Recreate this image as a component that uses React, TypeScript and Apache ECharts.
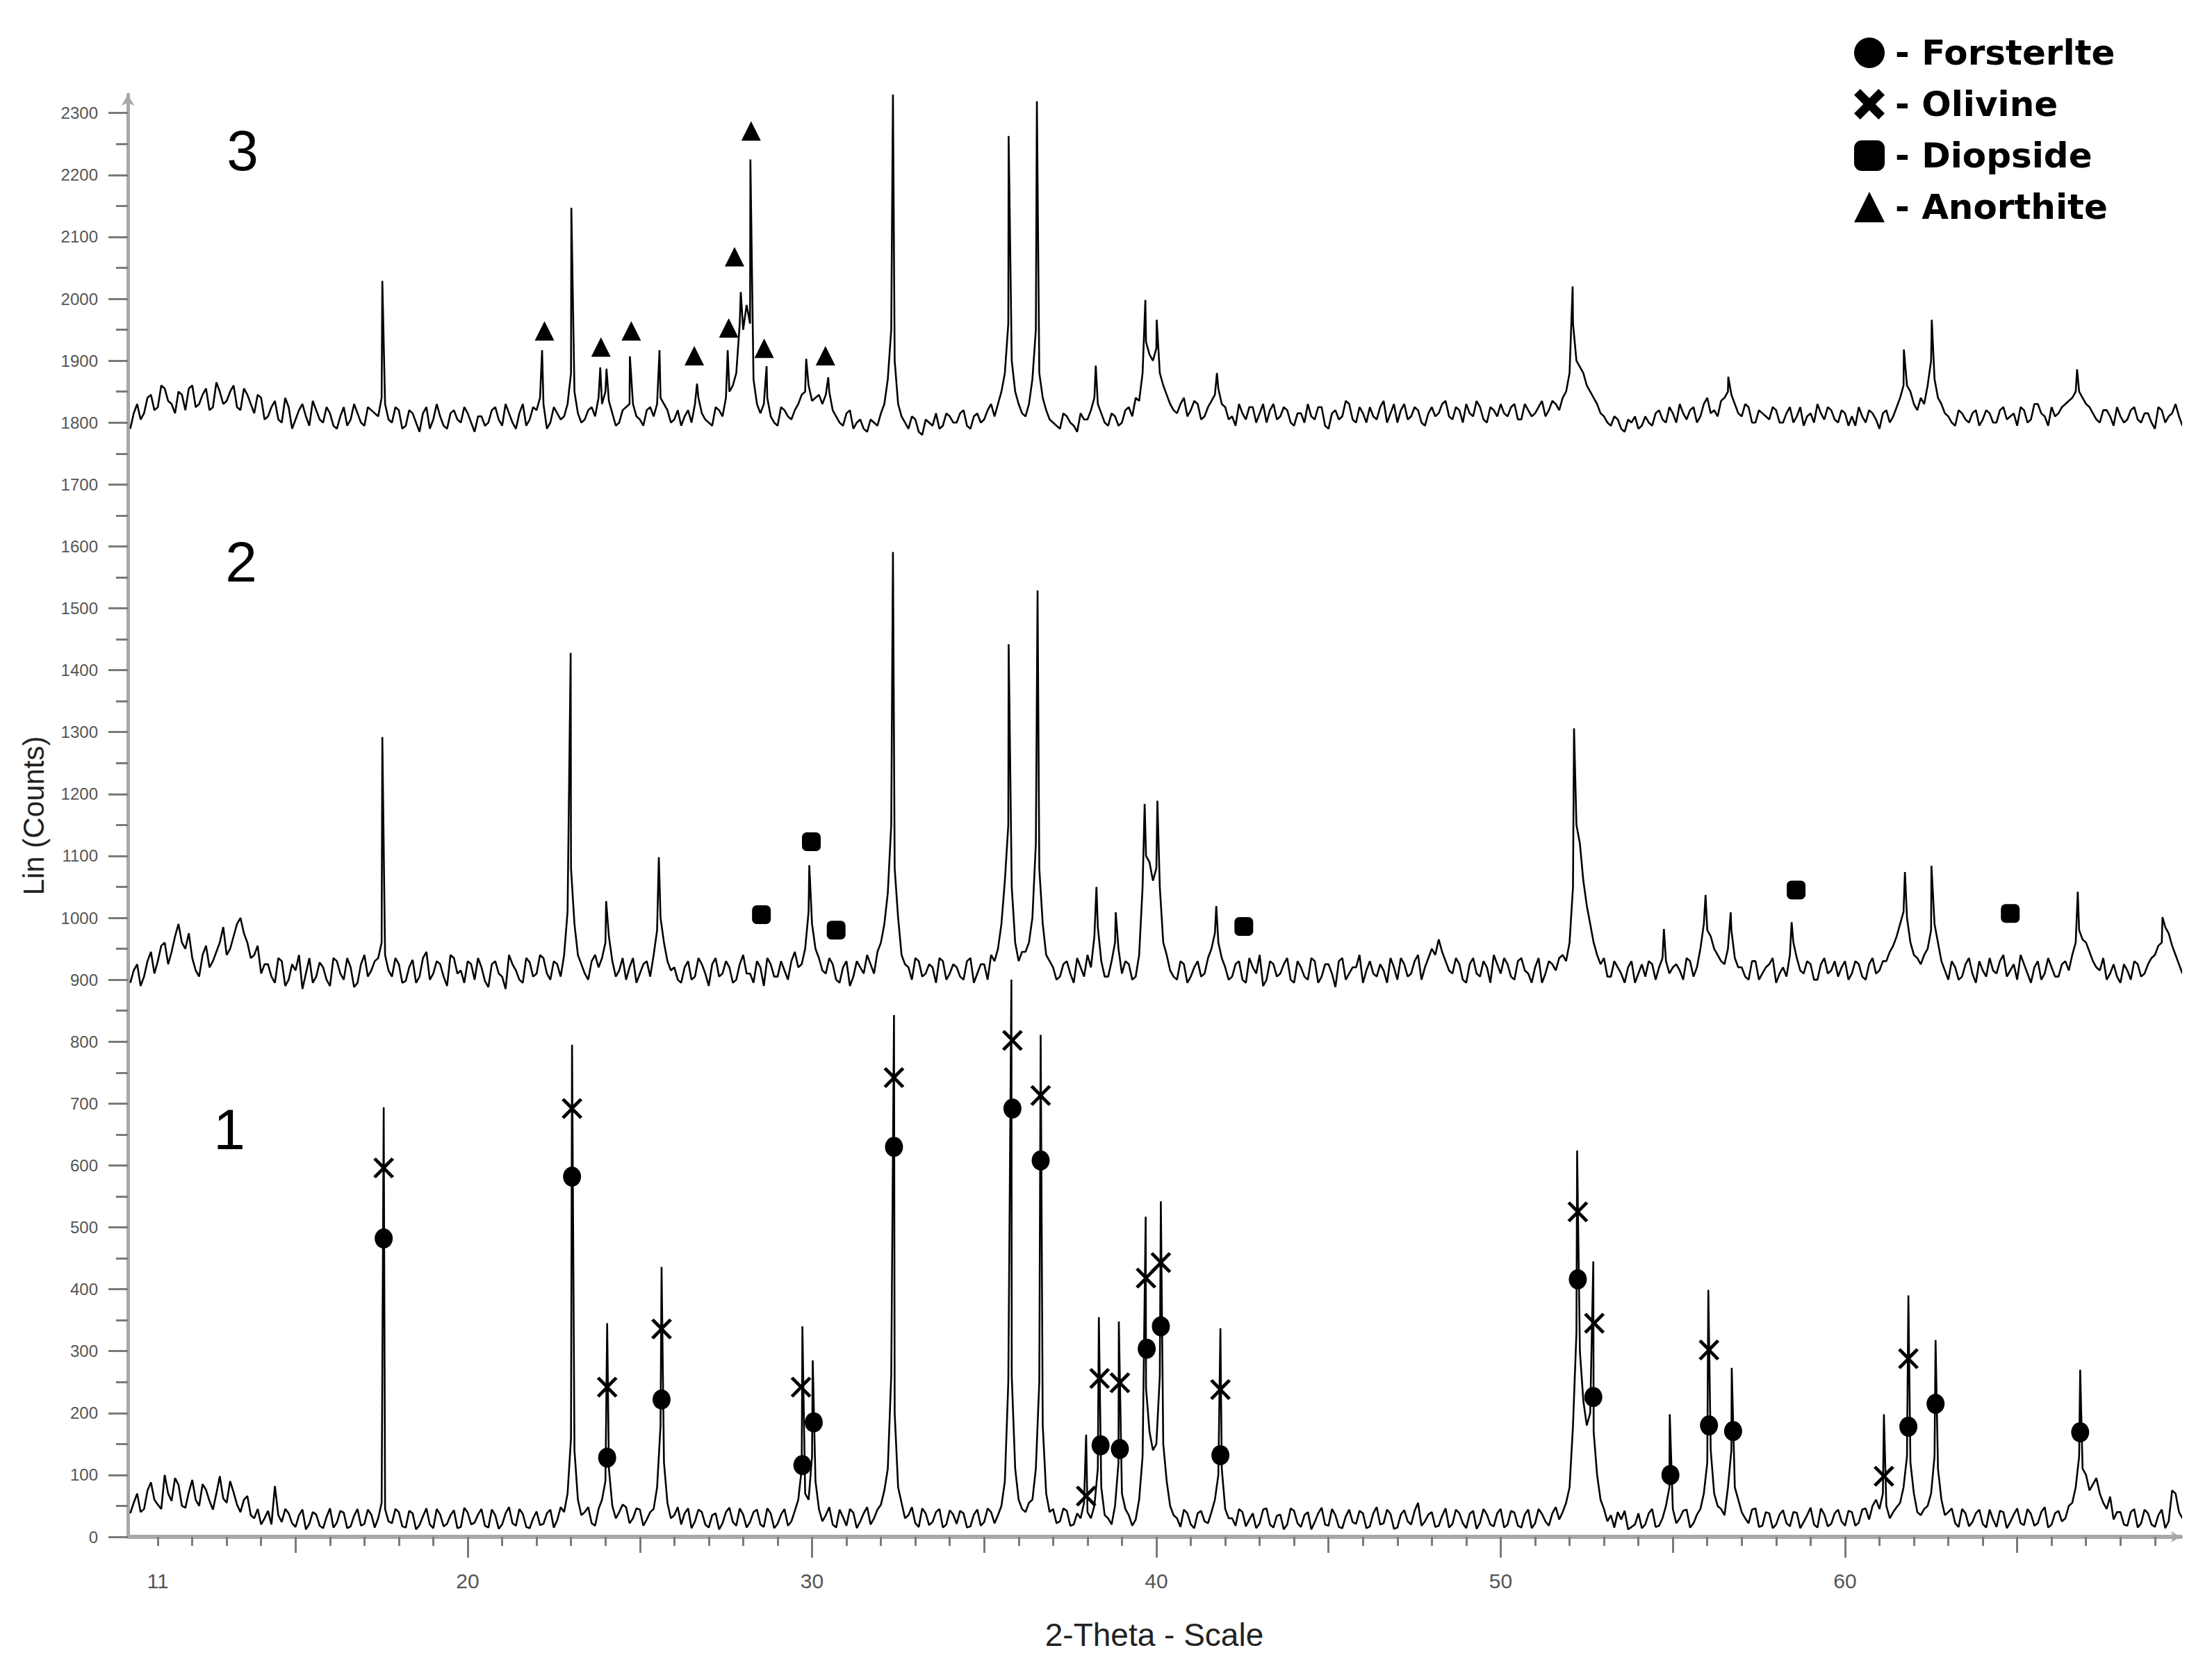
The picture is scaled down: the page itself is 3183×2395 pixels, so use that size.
import React, { useEffect, useRef } from "react";
import * as echarts from "echarts";

// ---- axis ranges / labels ----
const X_MIN = 10.13;
const X_MAX = 69.75;
const Y_MIN = 0;
const Y_MAX = 2330;
const X_LABELS = [11, 20, 30, 40, 50, 60];
const X_TICKS_5 = [15, 25, 35, 45, 55, 65];
const X_TICKS_10 = [20, 30, 40, 50, 60];
const Y_LABELS = [0, 100, 200, 300, 400, 500, 600, 700, 800, 900, 1000, 1100, 1200, 1300, 1400, 1500, 1600, 1700, 1800, 1900, 2000, 2100, 2200, 2300];

// ---- scan background, read every 0.2 deg: "A" starts at 10.2, "B" starts at 10.3 ----
const A_START = 10.2;
const B_START = 10.3;
const STEP = 0.2;

const P1_A = [
  38, 70, 45, 88, 52, 100, 58, 84, 47, 92,
  50, 76, 44, 98, 55, 72, 40, 66, 30, 20,
  42, 82, 24, 38, 16, 44, 21, 36, 14, 46,
  23, 39, 17, 45, 21, 36, 30, 45, 22, 40,
  15, 38, 19, 46, 14, 36, 21, 43, 16, 39,
  23, 45, 15, 35, 20, 48, 18, 37, 14, 41,
  21, 44, 27, 40, 160, 60, 40, 22, 45, 90,
  50, 40, 48, 30, 44, 28, 45, 180, 55, 35,
  20, 46, 25, 40, 15, 38, 22, 47, 18, 36,
  24, 44, 16, 38, 21, 45, 25, 60, 70, 130,
  45, 35, 20, 44, 18, 39, 25, 48, 30, 52,
  110, 200, 55, 35, 22, 46, 19, 40, 15, 43,
  21, 38, 17, 44, 24, 40, 35, 90, 260, 60,
  40, 60, 250, 70, 45, 25, 42, 20, 30, 40,
  50, 80, 30, 50, 70, 35, 28, 130, 170, 150,
  150, 50, 30, 44, 20, 38, 25, 40, 100, 45,
  30, 45, 17, 38, 22, 46, 15, 36, 20, 42,
  16, 40, 24, 47, 18, 35, 14, 44, 21, 38,
  17, 48, 22, 37, 15, 43, 20, 55, 25, 40,
  18, 46, 21, 38, 14, 42, 23, 36, 17, 45,
  20, 39, 15, 44, 22, 37, 18, 48, 40, 80,
  330, 220, 200, 100, 45, 35, 40, 42, 16, 38,
  20, 45, 18, 50, 45, 30, 44, 22, 45, 120,
  70, 45, 80, 80, 40, 22, 46, 18, 38, 20,
  43, 17, 39, 24, 47, 15, 36, 21, 44, 18,
  40, 23, 46, 50, 45, 50, 40, 55, 130, 70,
  35, 50, 130, 60, 40, 22, 45, 17, 38, 21,
  44, 16, 40, 24, 46, 19, 37, 22, 48, 20,
  42, 30, 55, 130, 100, 85, 70, 45, 28, 40,
  18, 45, 22, 38, 16, 44, 25, 70, 30, 60,
];
const P1_B = [
  55, 40, 75, 60, 45, 70, 95, 50, 72, 60,
  85, 58, 70, 62, 90, 52, 60, 35, 45, 30,
  20, 35, 45, 22, 35, 12, 40, 18, 32, 15,
  42, 14, 34, 18, 44, 15, 55, 25, 45, 17,
  42, 12, 33, 20, 45, 17, 35, 14, 47, 20,
  36, 18, 44, 13, 38, 22, 45, 16, 30, 19,
  38, 15, 48, 70, 140, 35, 48, 18, 60, 110,
  30, 52, 22, 46, 18, 40, 80, 120, 30, 48,
  38, 14, 44, 20, 35, 12, 40, 24, 46, 15,
  40, 20, 46, 14, 36, 18, 42, 110, 60, 90,
  25, 48, 15, 32, 45, 14, 38, 20, 44, 75,
  260, 80, 30, 48, 16, 38, 24, 45, 20, 36,
  42, 15, 36, 18, 46, 22, 50, 250, 110, 45,
  55, 110, 180, 40, 22, 46, 18, 38, 55, 30,
  110, 35, 20, 120, 45, 18, 60, 240, 140, 260,
  90, 35, 16, 38, 14, 42, 22, 60, 110, 30,
  18, 40, 28, 14, 44, 20, 34, 12, 46, 22,
  35, 12, 38, 20, 45, 16, 33, 24, 42, 14,
  38, 20, 44, 13, 36, 25, 42, 18, 36, 16,
  34, 15, 44, 22, 37, 13, 45, 20, 38, 15,
  42, 18, 36, 14, 45, 25, 38, 28, 55, 180,
  300, 180, 170, 60, 25, 15, 28, 12, 20, 14,
  38, 16, 30, 80, 22, 42, 15, 36, 70, 140,
  50, 35, 140, 60, 30, 44, 16, 40, 14, 36,
  22, 40, 14, 35, 20, 46, 17, 38, 25, 42,
  18, 44, 28, 60, 70, 30, 48, 80, 120, 40,
  45, 70, 110, 35, 46, 16, 38, 24, 44, 15,
  28, 42, 14, 36, 22, 45, 18, 40, 15, 38,
  25, 50, 80, 110, 75, 95, 55, 65, 40, 20,
  40, 15, 44, 20, 35, 14, 75, 40, 55, 30,
];

const P2_A = [
  895, 925, 905, 945, 930, 960, 945, 990, 950, 935,
  905, 955, 930, 960, 940, 970, 1000, 960, 940, 910,
  925, 895, 930, 900, 915, 885, 935, 905, 920, 890,
  930, 900, 920, 895, 940, 915, 935, 940, 905, 925,
  898, 932, 905, 945, 910, 925, 890, 935, 915, 930,
  900, 920, 888, 930, 905, 940, 915, 895, 928, 910,
  935, 900, 925, 940, 1080, 940, 910, 930, 920, 960,
  930, 915, 900, 935, 910, 930, 940, 1000, 930, 920,
  895, 930, 905, 925, 890, 935, 910, 920, 900, 940,
  910, 930, 890, 925, 905, 915, 930, 920, 950, 990,
  935, 910, 925, 895, 930, 905, 920, 940, 910, 960,
  1040, 1080, 940, 920, 935, 905, 925, 895, 930, 910,
  920, 900, 935, 910, 925, 940, 950, 1060, 1050, 930,
  945, 1000, 1080, 940, 920, 905, 930, 895, 920, 940,
  970, 930, 905, 960, 910, 925, 905, 1050, 1090, 1080,
  960, 915, 900, 925, 905, 930, 910, 950, 960, 920,
  905, 930, 895, 920, 940, 900, 925, 910, 935, 895,
  920, 900, 930, 905, 925, 888, 935, 910, 920, 895,
  930, 905, 915, 935, 900, 925, 910, 940, 920, 950,
  965, 930, 910, 925, 895, 935, 905, 920, 940, 910,
  925, 900, 935, 910, 920, 895, 930, 915, 940, 960,
  1150, 1060, 990, 940, 935, 905, 920, 895, 930, 910,
  905, 925, 920, 930, 920, 915, 935, 905, 950, 980,
  950, 930, 950, 935, 920, 900, 930, 910, 925, 895,
  920, 940, 935, 910, 925, 900, 935, 915, 905, 930,
  910, 925, 900, 935, 915, 930, 955, 990, 1000, 940,
  925, 950, 990, 930, 900, 920, 905, 935, 895, 915,
  935, 910, 940, 915, 900, 925, 895, 930, 910, 920,
  905, 930, 940, 980, 960, 930, 915, 900, 925, 895,
  915, 930, 905, 925, 940, 960, 975, 940, 910, 935,
];
const P2_B = [
  915, 890, 930, 910, 955, 925, 970, 960, 975, 915,
  940, 920, 945, 985, 950, 990, 975, 935, 955, 925,
  905, 935, 890, 925, 940, 910, 895, 928, 900, 935,
  910, 935, 888, 925, 905, 930, 960, 915, 935, 895,
  920, 895, 935, 900, 930, 905, 940, 910, 895, 925,
  935, 898, 925, 910, 885, 925, 900, 935, 905, 940,
  910, 930, 905, 1010, 990, 925, 900, 940, 935, 970,
  905, 935, 920, 895, 925, 905, 980, 960, 915, 900,
  920, 900, 935, 910, 925, 905, 930, 895, 925, 910,
  895, 920, 935, 905, 930, 900, 945, 925, 1010, 950,
  915, 935, 900, 920, 890, 930, 910, 925, 945, 990,
  1150, 1000, 925, 900, 930, 910, 920, 935, 900, 925,
  905, 930, 895, 925, 900, 930, 990, 1150, 960, 945,
  960, 1120, 990, 930, 900, 925, 910, 935, 905, 920,
  985, 905, 930, 950, 930, 900, 940, 1100, 1060, 1050,
  940, 905, 930, 895, 920, 905, 935, 975, 935, 900,
  925, 900, 935, 910, 890, 930, 905, 925, 900, 930,
  905, 935, 895, 925, 910, 930, 900, 920, 940, 915,
  910, 925, 895, 920, 935, 905, 930, 900, 935, 940,
  945, 915, 935, 900, 925, 910, 930, 895, 925, 935,
  905, 930, 915, 895, 935, 910, 925, 935, 930, 1050,
  1120, 1020, 960, 925, 905, 930, 910, 920, 895, 925,
  930, 900, 935, 910, 925, 900, 930, 920, 990, 970,
  940, 925, 980, 920, 905, 930, 900, 920, 935, 910,
  905, 960, 915, 930, 900, 925, 910, 930, 920, 900,
  930, 905, 925, 910, 930, 945, 970, 1010, 960, 935,
  940, 980, 960, 915, 930, 900, 925, 910, 930, 905,
  915, 930, 905, 925, 940, 910, 920, 900, 935, 905,
  925, 915, 960, 965, 945, 920, 935, 910, 905, 925,
  900, 925, 910, 935, 955, 985, 955, 925, 945, 920,
];

const P3_A = [
  1790, 1830, 1815, 1845, 1825, 1855, 1830, 1850, 1820, 1860,
  1830, 1855, 1825, 1850, 1835, 1860, 1820, 1845, 1815, 1840,
  1810, 1835, 1800, 1825, 1805, 1830, 1795, 1820, 1800, 1815,
  1790, 1825, 1805, 1815, 1795, 1820, 1810, 1830, 1800, 1820,
  1795, 1815, 1785, 1825, 1805, 1810, 1790, 1820, 1800, 1815,
  1785, 1810, 1800, 1825, 1795, 1815, 1790, 1830, 1805, 1820,
  1830, 1800, 1815, 1810, 1880, 1815, 1805, 1825, 1840, 1850,
  1815, 1800, 1825, 1830, 1805, 1820, 1810, 1840, 1820, 1805,
  1795, 1820, 1830, 1815, 1800, 1825, 1810, 1850, 1880, 1950,
  1960, 1830, 1830, 1810, 1795, 1820, 1805, 1830, 1850, 1835,
  1845, 1845, 1820, 1800, 1815, 1790, 1805, 1785, 1800, 1815,
  1870, 1900, 1810, 1790, 1805, 1780, 1800, 1815, 1795, 1810,
  1800, 1820, 1790, 1815, 1805, 1830, 1830, 1880, 1900, 1830,
  1810, 1870, 1880, 1820, 1800, 1790, 1810, 1795, 1815, 1805,
  1840, 1815, 1795, 1810, 1800, 1825, 1840, 1880, 1910, 1920,
  1860, 1830, 1815, 1840, 1820, 1830, 1810, 1835, 1855, 1825,
  1810, 1830, 1805, 1825, 1815, 1800, 1830, 1810, 1820, 1795,
  1815, 1830, 1805, 1825, 1790, 1820, 1810, 1830, 1800, 1815,
  1825, 1805, 1835, 1815, 1800, 1830, 1810, 1820, 1795, 1825,
  1815, 1835, 1805, 1820, 1830, 1810, 1825, 1800, 1820, 1830,
  1810, 1830, 1805, 1820, 1815, 1835, 1820, 1830, 1840, 1880,
  1900, 1880, 1850, 1830, 1810, 1795, 1805, 1785, 1800, 1790,
  1810, 1795, 1820, 1800, 1815, 1830, 1805, 1825, 1810, 1840,
  1820, 1835, 1850, 1830, 1810, 1825, 1800, 1815, 1805, 1820,
  1800, 1825, 1810, 1795, 1815, 1830, 1805, 1820, 1800, 1815,
  1810, 1825, 1800, 1815, 1790, 1820, 1810, 1840, 1860, 1830,
  1840, 1860, 1870, 1830, 1810, 1795, 1815, 1800, 1820, 1805,
  1815, 1800, 1825, 1810, 1795, 1820, 1805, 1830, 1810, 1825,
  1815, 1830, 1840, 1850, 1830, 1815, 1800, 1820, 1795, 1810,
  1805, 1825, 1800, 1815, 1790, 1820, 1810, 1830, 1795, 1800,
];
const P3_B = [
  1815, 1805, 1840, 1820, 1860, 1835, 1815, 1845, 1855, 1825,
  1845, 1820, 1865, 1830, 1850, 1825, 1855, 1830, 1845, 1805,
  1825, 1805, 1840, 1790, 1820, 1810, 1835, 1805, 1825, 1795,
  1810, 1795, 1830, 1800, 1825, 1815, 1840, 1805, 1825, 1790,
  1820, 1800, 1815, 1790, 1830, 1795, 1815, 1805, 1825, 1800,
  1810, 1795, 1820, 1805, 1830, 1800, 1815, 1795, 1825, 1840,
  1790, 1825, 1805, 1830, 1850, 1800, 1820, 1810, 1830, 1835,
  1795, 1820, 1830, 1810, 1795, 1825, 1830, 1830, 1800, 1820,
  1810, 1800, 1840, 1805, 1795, 1820, 1840, 1860, 1960, 1990,
  1870, 1815, 1840, 1800, 1825, 1810, 1820, 1845, 1860, 1840,
  1830, 1850, 1810, 1795, 1820, 1800, 1790, 1805, 1795, 1830,
  1950, 1830, 1800, 1810, 1785, 1805, 1795, 1790, 1815, 1800,
  1815, 1795, 1810, 1800, 1820, 1810, 1850, 1960, 1850, 1815,
  1830, 1950, 1840, 1805, 1795, 1815, 1800, 1785, 1805, 1820,
  1830, 1800, 1815, 1795, 1820, 1810, 1835, 1930, 1900, 1880,
  1845, 1820, 1830, 1810, 1835, 1805, 1825, 1845, 1830, 1805,
  1795, 1815, 1825, 1800, 1830, 1820, 1805, 1825, 1800, 1815,
  1800, 1810, 1825, 1795, 1815, 1805, 1835, 1805, 1825, 1800,
  1810, 1825, 1800, 1830, 1820, 1805, 1825, 1800, 1815, 1810,
  1830, 1810, 1825, 1800, 1815, 1835, 1805, 1825, 1810, 1815,
  1825, 1805, 1830, 1810, 1825, 1810, 1835, 1820, 1850, 1960,
  1890, 1860, 1840, 1815, 1800, 1810, 1790, 1805, 1810, 1795,
  1800, 1815, 1805, 1825, 1800, 1815, 1820, 1800, 1830, 1815,
  1810, 1840, 1845, 1815, 1830, 1800, 1820, 1810, 1825, 1800,
  1815, 1800, 1825, 1810, 1800, 1815, 1825, 1805, 1820, 1795,
  1795, 1810, 1820, 1805, 1815, 1800, 1825, 1860, 1850, 1820,
  1830, 1900, 1840, 1815, 1800, 1820, 1805, 1815, 1795, 1820,
  1800, 1820, 1805, 1815, 1825, 1800, 1830, 1815, 1795, 1810,
  1825, 1835, 1850, 1840, 1825, 1805, 1820, 1810, 1825, 1800,
  1820, 1805, 1815, 1800, 1825, 1800, 1815, 1810, 1820, 1805,
];

// ---- peak tops [2theta, counts] ----
const P1_PEAKS = [
  [17.56, 694], [23.03, 795], [24.05, 345], [25.63, 436], [29.72, 340], [30.02, 285],
  [32.38, 843], [35.79, 900], [36.64, 811], [37.96, 165], [38.33, 355], [38.91, 348],
  [39.69, 517], [40.13, 542], [41.86, 337], [52.22, 624], [52.69, 445], [54.91, 198],
  [56.03, 399], [56.71, 273], [61.13, 198], [61.84, 390], [62.63, 318], [66.83, 270],
];
const P2_PEAKS = [
  [17.52, 1292], [22.99, 1428], [24.02, 1027], [25.55, 1098], [29.92, 1085], [32.35, 1591],
  [35.71, 1442], [36.55, 1529], [38.26, 1050], [38.82, 1009], [39.66, 1184], [40.03, 1189],
  [41.74, 1019], [52.13, 1306], [54.74, 982], [55.95, 1037], [56.68, 1009],
  [58.45, 993], [61.74, 1074], [62.51, 1084], [66.76, 1042], [69.22, 1001],
];
const P3_PEAKS = [
  [17.52, 2029], [22.16, 1917], [23.01, 2147], [23.85, 1889], [24.03, 1887], [24.71, 1907],
  [25.57, 1917], [26.66, 1863], [27.55, 1917], [27.93, 2011], [28.21, 2225], [28.68, 1891],
  [29.83, 1903], [30.47, 1873], [32.35, 2330], [35.71, 2263], [36.53, 2319], [38.24, 1892],
  [39.68, 1998], [40.01, 1966], [41.76, 1880], [52.09, 2020], [56.61, 1874], [61.71, 1918],
  [62.52, 1966], [66.74, 1886],
];

// ---- phase markers [2theta, counts] ----
const FORSTERITE = [
  [17.56, 482], [23.03, 582], [24.05, 128], [25.63, 222], [29.72, 116], [30.05, 185],
  [32.38, 630], [35.82, 692], [36.64, 608], [38.38, 148], [38.94, 142], [39.72, 304],
  [40.13, 340], [41.86, 132], [52.24, 416], [52.69, 226], [54.93, 100], [56.05, 180],
  [56.75, 171], [61.84, 178], [62.63, 215], [66.83, 169],
];
const OLIVINE = [
  [17.56, 596], [23.03, 692], [24.05, 242], [25.63, 336], [29.68, 242], [32.38, 742],
  [35.82, 802], [36.64, 713], [37.96, 66], [38.35, 256], [38.94, 249], [39.7, 418],
  [40.13, 443], [41.86, 238], [52.24, 525], [52.72, 345], [56.05, 302], [61.13, 98],
  [61.84, 288],
];
const DIOPSIDE = [
  [28.53, 1005], [29.98, 1123], [30.7, 980], [42.54, 986], [58.58, 1045], [64.8, 1007],
];
const ANORTHITE = [
  [22.23, 1948], [23.87, 1922], [24.75, 1948], [26.58, 1908], [27.58, 1953], [27.75, 2068],
  [28.23, 2271], [28.61, 1920], [30.39, 1908],
];

const PANEL_LABELS = ["1", "2", "3"];
const LEGEND_NAMES = ["Forsterlte", "Olivine", "Diopside", "Anorthite"];

const CROSS_THIN = "path://M14,0L50,38L86,0L98,10L60,50L98,90L86,100L50,62L14,100L2,90L40,50L2,10Z";
const CROSS_BOLD = "path://M20,0L50,30L80,0L100,20L70,50L100,80L80,100L50,70L20,100L0,80L30,50L0,20Z";

function mergeScan(a: number[], b: number[], peaks: number[][]) {
  const pts: number[][] = [];
  a.forEach((v, i) => pts.push([Number((A_START + STEP * i).toFixed(2)), v]));
  b.forEach((v, i) => pts.push([Number((B_START + STEP * i).toFixed(2)), v]));
  peaks.forEach((p) => pts.push([p[0], p[1]]));
  pts.sort((p, q) => p[0] - q[0]);
  return pts;
}

function intTicks() {
  const out: number[] = [];
  for (let v = 11; v <= 69; v++) out.push(v);
  return out;
}

const SANS = "Liberation Sans, Arial, sans-serif";

export default function App() {
  const ref = useRef<HTMLDivElement>(null);
  useEffect(() => {
    if (!ref.current) return;
    const chart = echarts.init(ref.current, null, { renderer: "svg" });
    const tickStyle = { color: "#7a7a7a", width: 3 };
    const xCommon = {
      type: "value" as const,
      min: X_MIN,
      max: X_MAX,
      position: "bottom" as const,
      gridIndex: 0,
      splitLine: { show: false },
    };
    const lineSeries = (data: number[][]) => ({
      type: "line",
      data,
      showSymbol: false,
      symbol: "none",
      lineStyle: { color: "#000", width: 2.6 },
      z: 2,
      silent: true,
    });
    const scatter = (name: string, symbol: string, size: number[], data: number[][]) => ({
      name,
      type: "scatter",
      symbol,
      symbolSize: size,
      itemStyle: { color: "#000", opacity: 1 },
      data,
      z: 5,
      silent: true,
    });
    const option: any = {
      animation: false,
      backgroundColor: "#ffffff",
      textStyle: { fontFamily: SANS },
      grid: { left: 184, right: 45, top: 136, bottom: 183, containLabel: false },
      legend: {
        orient: "vertical",
        left: 2663,
        top: 46,
        itemWidth: 44,
        itemHeight: 44,
        itemGap: 24,
        selectedMode: false,
        formatter: (n: string) => "- " + n,
        itemStyle: { opacity: 1 },
        textStyle: { fontFamily: "DejaVu Sans", fontWeight: "bold", fontSize: 50, color: "#000", padding: [0, 0, 0, 10] },
        data: [
          { name: LEGEND_NAMES[0], icon: "circle" },
          { name: LEGEND_NAMES[1], icon: CROSS_BOLD },
          { name: LEGEND_NAMES[2], icon: "roundRect" },
          { name: LEGEND_NAMES[3], icon: "triangle" },
        ],
      },
      xAxis: [
        {
          ...xCommon,
          name: "2-Theta - Scale",
          nameLocation: "middle",
          nameGap: 118,
          nameTextStyle: { fontSize: 46, color: "#222", fontFamily: SANS },
          axisLine: { show: true, lineStyle: { color: "#a8a8a8", width: 6 }, symbol: ["none", "arrow"], symbolSize: [12, 14] },
          axisTick: { show: true, length: 13, lineStyle: tickStyle, customValues: intTicks() },
          axisLabel: { show: true, customValues: X_LABELS, margin: 48, fontSize: 30, color: "#555", formatter: (v: number) => String(v) },
        },
        {
          ...xCommon,
          axisLine: { show: false },
          axisTick: { show: true, length: 23, lineStyle: tickStyle, customValues: X_TICKS_5 },
          axisLabel: { show: false },
        },
        {
          ...xCommon,
          axisLine: { show: false },
          axisTick: { show: true, length: 30, lineStyle: tickStyle, customValues: X_TICKS_10 },
          axisLabel: { show: false },
        },
      ],
      yAxis: [
        {
          type: "value",
          min: Y_MIN,
          max: Y_MAX,
          position: "left",
          name: "Lin (Counts)",
          nameLocation: "middle",
          nameGap: 115,
          nameRotate: 90,
          nameTextStyle: { fontSize: 42, color: "#222", fontFamily: SANS },
          axisLine: { show: true, lineStyle: { color: "#a8a8a8", width: 5 }, symbol: ["none", "arrow"], symbolSize: [14, 16] },
          axisTick: { show: true, length: 28, lineStyle: tickStyle, customValues: Y_LABELS },
          axisLabel: { show: true, customValues: Y_LABELS, margin: 43, fontSize: 24, color: "#555", formatter: (v: number) => String(v) },
          splitLine: { show: false },
        },
        {
          type: "value",
          min: Y_MIN,
          max: Y_MAX,
          position: "left",
          axisLine: { show: false },
          axisTick: { show: true, length: 17, lineStyle: tickStyle, customValues: Y_LABELS.map((v) => v + 50) },
          axisLabel: { show: false },
          splitLine: { show: false },
        },
      ],
      graphic: [
        { type: "text", x: 330, y: 1625, style: { text: PANEL_LABELS[0], fontSize: 82, fontFamily: SANS, fill: "#000", textAlign: "center", textVerticalAlign: "middle" } },
        { type: "text", x: 347, y: 808, style: { text: PANEL_LABELS[1], fontSize: 82, fontFamily: SANS, fill: "#000", textAlign: "center", textVerticalAlign: "middle" } },
        { type: "text", x: 349, y: 216, style: { text: PANEL_LABELS[2], fontSize: 82, fontFamily: SANS, fill: "#000", textAlign: "center", textVerticalAlign: "middle" } },
      ],
      series: [
        lineSeries(mergeScan(P1_A, P1_B, P1_PEAKS)),
        lineSeries(mergeScan(P2_A, P2_B, P2_PEAKS)),
        lineSeries(mergeScan(P3_A, P3_B, P3_PEAKS)),
        scatter(LEGEND_NAMES[0], "circle", [26, 29], FORSTERITE),
        scatter(LEGEND_NAMES[1], CROSS_THIN, [30, 30], OLIVINE),
        scatter(LEGEND_NAMES[2], "roundRect", [27, 27], DIOPSIDE),
        scatter(LEGEND_NAMES[3], "triangle", [28, 28], ANORTHITE),
      ],
    };
    chart.setOption(option);
    return () => chart.dispose();
  }, []);
  return (
    <div
      ref={ref}
      style={{ position: "fixed", left: 0, top: 0, width: 3183, height: 2395, background: "#fff" }}
    />
  );
}
